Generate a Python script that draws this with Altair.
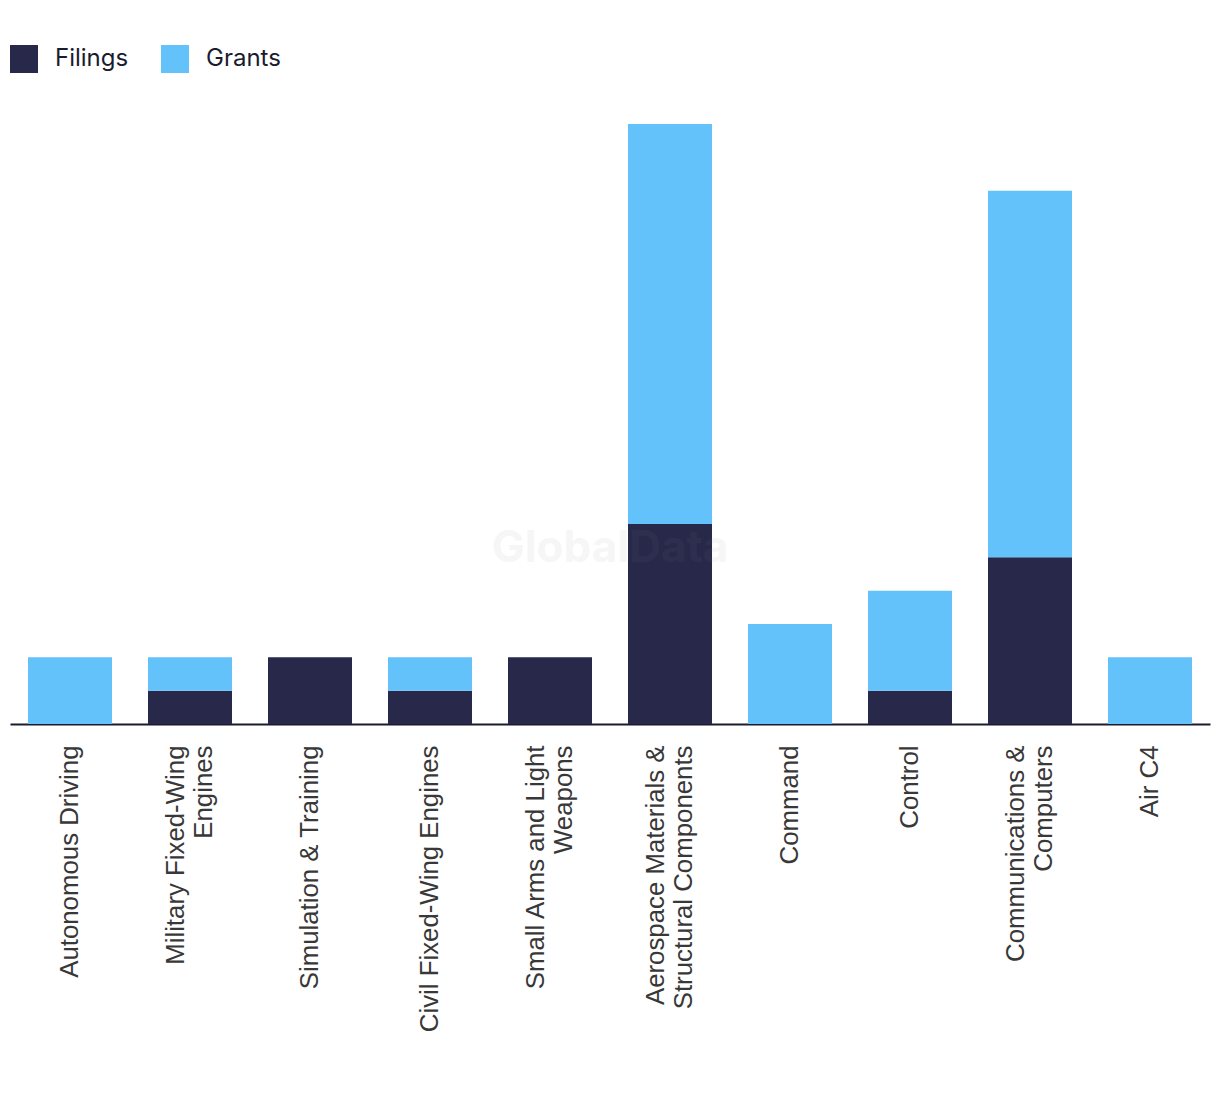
import altair as alt
import pandas as pd

categories = [
    "Autonomous Driving",
    "Military Fixed-Wing Engines",
    "Simulation & Training",
    "Civil Fixed-Wing Engines",
    "Small Arms and Light Weapons",
    "Aerospace Materials & Structural Components",
    "Command",
    "Control",
    "Communications & Computers",
    "Air C4",
]
label_lines = [
    ["Autonomous Driving"],
    ["Military Fixed-Wing", "Engines"],
    ["Simulation & Training"],
    ["Civil Fixed-Wing Engines"],
    ["Small Arms and Light", "Weapons"],
    ["Aerospace Materials &", "Structural Components"],
    ["Command"],
    ["Control"],
    ["Communications &", "Computers"],
    ["Air C4"],
]
filings = [0, 1, 2, 1, 2, 6, 0, 1, 5, 0]
grants = [2, 1, 0, 1, 0, 12, 3, 3, 11, 2]
series = ["Filings", "Grants"]
colors = ["#27284A", "#62C2F9"]

rows = []
for i, c in enumerate(categories):
    rows.append({"category": c, "series": "Filings", "value": filings[i], "ord": 0})
    rows.append({"category": c, "series": "Grants", "value": grants[i], "ord": 1})
df = pd.DataFrame(rows)

def js_str(s):
    return "'" + s.replace("'", "\\'") + "'"

def js_arr(lines):
    return "[" + ",".join(js_str(l) for l in lines) + "]"

expr = "datum.label"
for c, lines in reversed(list(zip(categories, label_lines))):
    expr = f"datum.label == {js_str(c)} ? {js_arr(lines)} : ({expr})"

LINE_H = 28
two_line = [c for c, l in zip(categories, label_lines) if len(l) == 2]
offset_test = "indexof(" + js_arr(two_line) + ", datum.value) >= 0"

bars = alt.Chart(df).mark_bar().encode(
    x=alt.X(
        "category:N",
        sort=categories,
        scale=alt.Scale(paddingInner=0.3, paddingOuter=0.15),
        axis=alt.Axis(
            title=None,
            labelAngle=-90,
            labelAlign="right",
            labelBaseline="middle",
            labelFont="Liberation Sans",
            labelFontSize=25.8,
            labelColor="#383838",
            labelPadding=21,
            labelLineHeight=LINE_H,
            labelExpr=expr,
            labelLimit=400,
            labelOffset={"condition": {"test": offset_test, "value": -LINE_H / 2}, "value": 0},
            ticks=False,
            domainColor="#1B1B2F",
            domainWidth=2,
        ),
    ),
    y=alt.Y(
        "value:Q",
        stack="zero",
        scale=alt.Scale(domain=[0, 18], nice=False),
        axis=None,
    ),
    color=alt.Color(
        "series:N",
        scale=alt.Scale(domain=series, range=colors),
        legend=alt.Legend(
            title=None,
            orient="none",
            legendX=0,
            legendY=-79,
            direction="horizontal",
            symbolType="square",
            symbolSize=784,
            symbolStrokeWidth=0,
            symbolOpacity=1,
            labelFont="Inter",
            labelFontSize=24,
            labelColor="#1B1B2F",
            labelOffset=17,
            columnPadding=32,
        ),
    ),
    order=alt.Order("ord:Q"),
)

watermark = alt.Chart(pd.DataFrame({"t": ["GlobalData"]})).mark_text(
    font="Inter", fontSize=44, fontWeight="bold", color="#888888", opacity=0.07
).encode(text="t:N", x=alt.value(600), y=alt.value(425))

chart = (
    alt.layer(bars, watermark)
    .properties(width=1200, height=600, padding={"left": 2, "top": 116, "right": 2, "bottom": 360},
                autosize=alt.AutoSizeParams(type="none"))
    .configure_view(stroke=None)
    .configure_axis(grid=False)
)

chart.save("out.html", embed_options={"renderer": "svg", "actions": False})
